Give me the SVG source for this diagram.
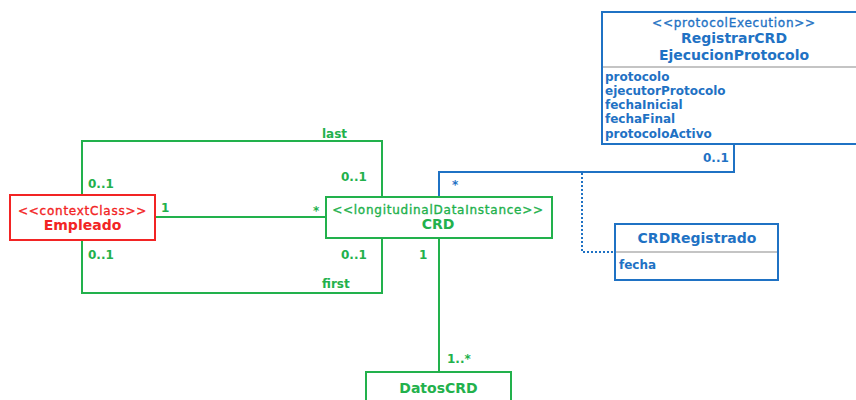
<svg xmlns="http://www.w3.org/2000/svg" width="856" height="400" viewBox="0 0 856 400">
  <style>
    text { font-family: "DejaVu Sans", Verdana, sans-serif; }
    .box { fill: #ffffff; stroke-width: 2; }
    .g { stroke: #22b14c; }
    .r { stroke: #f22424; }
    .b { stroke: #1f72c4; }
    .sep { stroke: #c4c4c4; stroke-width: 2; }
    .line { fill: none; stroke-width: 2; }
    .dot { fill: none; stroke: #1f72c4; stroke-width: 2; stroke-dasharray: 2 2; }
    .st { font-size: 12px; letter-spacing: 0.75px; text-anchor: middle; stroke-width: 0.35px; }
    .nm { font-size: 14px; font-weight: bold; text-anchor: middle; }
    .at { font-size: 12px; font-weight: bold; }
    .lb { font-size: 12px; font-weight: bold; }
    .tg { fill: #22b14c; }
    .tr { fill: #f22424; }
    .tb { fill: #1f72c4; }
  </style>

  <!-- associations -->
  <g id="connectors">
    <polyline class="line g" points="82,195 82,141 382,141 382,197"/>
    <polyline class="line g" points="82,240 82,293 382,293 382,238"/>
    <line class="line g" x1="155" y1="217" x2="326" y2="217"/>
    <line class="line g" x1="439" y1="238" x2="439" y2="372"/>
    <polyline class="line b" points="439,197 439,172 734,172 734,144"/>
    <polyline class="dot" points="582,173 582,252 615,252"/>

    <text class="lb tg" x="322" y="138">last</text>
    <text class="lb tg" x="88" y="188">0..1</text>
    <text class="lb tg" x="341" y="181">0..1</text>
    <text class="lb tg" x="161" y="212">1</text>
    <text class="lb tg" x="313" y="215">*</text>
    <text class="lb tg" x="88" y="259">0..1</text>
    <text class="lb tg" x="341" y="259">0..1</text>
    <text class="lb tg" x="322" y="288">first</text>
    <text class="lb tg" x="419" y="259">1</text>
    <text class="lb tg" x="447" y="363">1..*</text>
    <text class="lb tb" x="452" y="189">*</text>
    <text class="lb tb" x="703" y="162">0..1</text>
  </g>

  <g id="empleado">
    <rect class="box r" x="10" y="195" width="145" height="45"/>
    <text class="st tr r" x="82.5" y="215">&lt;&lt;contextClass&gt;&gt;</text>
    <text class="nm tr" x="82.5" y="230">Empleado</text>
  </g>

  <g id="crd">
    <rect class="box g" x="326" y="197" width="226" height="41"/>
    <text class="st tg g" x="438" y="214">&lt;&lt;longitudinalDataInstance&gt;&gt;</text>
    <text class="nm tg" x="438" y="229">CRD</text>
  </g>

  <g id="datos-crd">
    <rect class="box g" x="366" y="372" width="145" height="40"/>
    <text class="nm tg" x="438.5" y="393">DatosCRD</text>
  </g>

  <g id="registrar-crd">
    <rect class="box b" x="602" y="12" width="270" height="132"/>
    <line class="sep" x1="603" y1="67" x2="856" y2="67"/>
    <text class="st tb b" x="734" y="27">&lt;&lt;protocolExecution&gt;&gt;</text>
    <text class="nm tb" x="734" y="43">RegistrarCRD</text>
    <text class="nm tb" x="734" y="60">EjecucionProtocolo</text>
    <text class="at tb" x="605" y="81">protocolo</text>
    <text class="at tb" x="605" y="95">ejecutorProtocolo</text>
    <text class="at tb" x="605" y="109">fechaInicial</text>
    <text class="at tb" x="605" y="123">fechaFinal</text>
    <text class="at tb" x="605" y="138">protocoloActivo</text>
  </g>

  <g id="crd-registrado">
    <rect class="box b" x="615" y="224" width="163" height="56"/>
    <line class="sep" x1="616" y1="252" x2="777" y2="252"/>
    <text class="nm tb" x="697" y="243">CRDRegistrado</text>
    <text class="at tb" x="619" y="269">fecha</text>
  </g>
</svg>
